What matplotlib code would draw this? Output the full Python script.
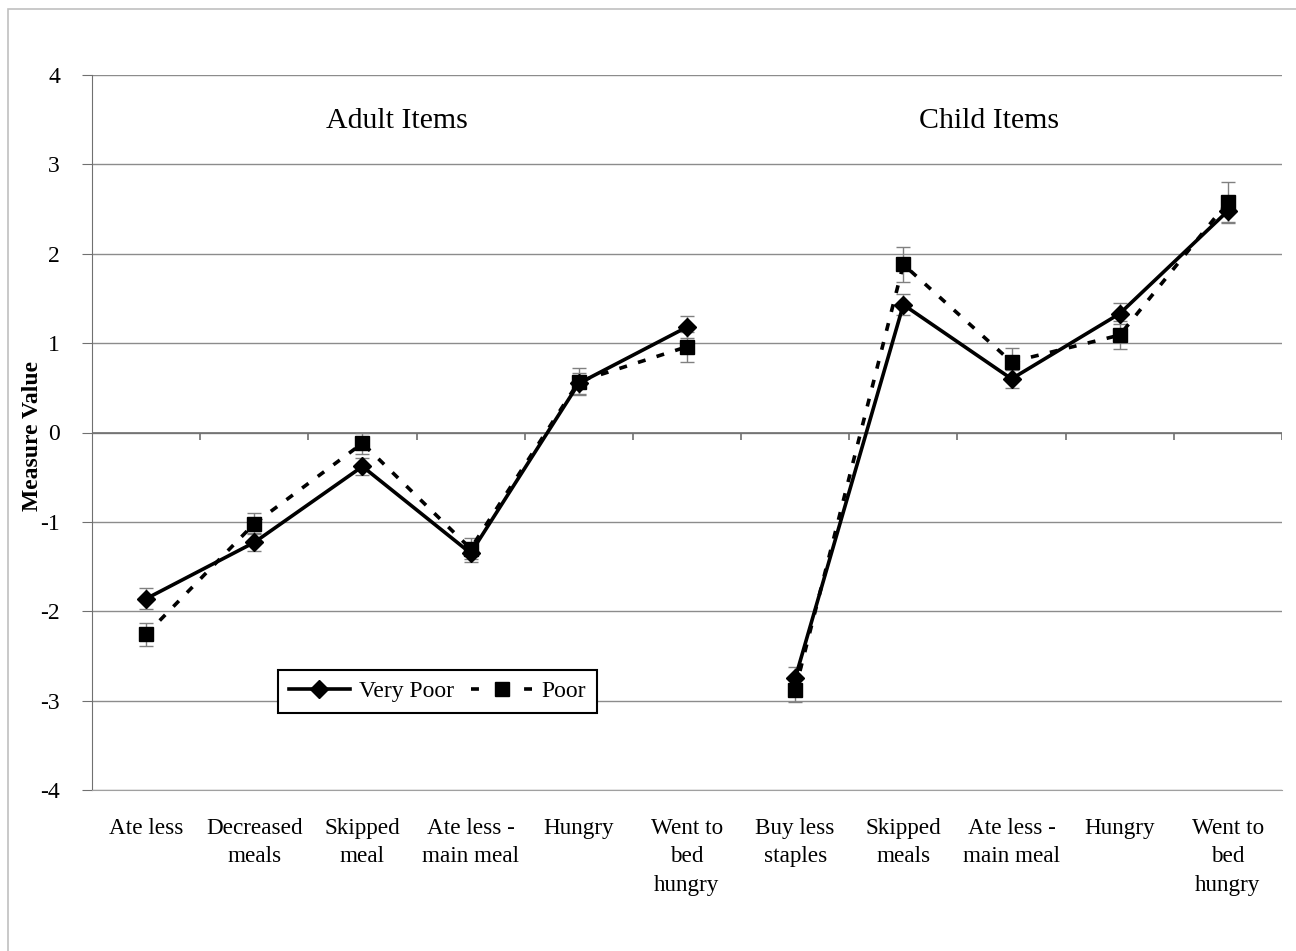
import numpy as np
import matplotlib
matplotlib.use("Agg")
import matplotlib.pyplot as plt
from matplotlib.patches import Rectangle
from matplotlib.lines import Line2D

plt.rcParams['font.family'] = ['Liberation Serif', 'DejaVu Serif']
plt.rcParams['axes.unicode_minus'] = False

# Data
categories = ["Ate less", "Decreased\nmeals", "Skipped\nmeal", "Ate less -\nmain meal",
              "Hungry", "Went to\nbed\nhungry",
              "Buy less\nstaples", "Skipped\nmeals", "Ate less -\nmain meal",
              "Hungry", "Went to\nbed\nhungry"]
very_poor = [-1.86, -1.23, -0.38, -1.35, 0.55, 1.18, -2.75, 1.43, 0.60, 1.33, 2.48]
very_poor_err = [0.12, 0.10, 0.09, 0.10, 0.12, 0.12, 0.13, 0.12, 0.10, 0.12, 0.14]
poor = [-2.26, -1.02, -0.12, -1.30, 0.57, 0.96, -2.88, 1.88, 0.79, 1.09, 2.58]
poor_err = [0.13, 0.12, 0.12, 0.12, 0.15, 0.17, 0.14, 0.20, 0.15, 0.16, 0.22]
groups = [("Adult Items", range(0, 6), 2.32), ("Child Items", range(6, 11), 7.79)]

fig = plt.figure(figsize=(12.96, 9.51), dpi=100)
fig.patches.append(Rectangle((8 / 1296, -0.1), 1.2, 1 - 9 / 951 + 0.1, transform=fig.transFigure,
                             fill=False, edgecolor='#c0c0c0', linewidth=1.2))
ax = fig.add_axes([92 / 1296, 1 - 790 / 951, 1190 / 1296, 715 / 951])

x = np.arange(len(categories))
dash = (0, (2.2, 3.2))
for title, idx, tx in groups:
    idx = list(idx)
    xs = x[idx]
    vp = np.array(very_poor)[idx]
    p = np.array(poor)[idx]
    ax.errorbar(xs, vp, yerr=np.array(very_poor_err)[idx], fmt='none', ecolor='#808080',
                elinewidth=1, capsize=5, capthick=1, zorder=2)
    ax.errorbar(xs, p, yerr=np.array(poor_err)[idx], fmt='none', ecolor='#808080',
                elinewidth=1, capsize=5, capthick=1, zorder=2)
    ax.plot(xs, p, color='black', linestyle=dash, linewidth=2.6,
            marker='s', markersize=10, zorder=3)
    ax.plot(xs, vp, color='black', linestyle='-', linewidth=2.6,
            marker='D', markersize=9, zorder=4)
    ax.text(tx, 3.48, title, ha='center', va='center', fontsize=21.5)

ax.set_xlim(-0.5, len(categories) - 0.5)
ax.set_ylim(-4, 4)
ax.set_yticks(range(-4, 5))
ax.yaxis.grid(True, color='#8c8c8c', linewidth=1)
ax.set_axisbelow(True)
ax.axhline(0, color='#707070', linewidth=1.2, zorder=1)
# category boundary ticks on the zero line
ax.vlines(np.arange(0.5, len(categories), 1), -0.08, 0, color='#707070', linewidth=1.2, zorder=1)

ax.set_xticks(x)
ax.set_xticklabels(categories, fontsize=16.7, linespacing=1.48)
ax.tick_params(axis='x', length=0, pad=20)
ax.tick_params(axis='y', labelsize=17, length=7, color='#707070', pad=16)

for s in ['top', 'right']:
    ax.spines[s].set_visible(False)
ax.spines['left'].set_color('#707070')
ax.spines['bottom'].set_color('#a0a0a0')

ax.set_ylabel("Measure Value", fontsize=17, fontweight='bold')
ax.yaxis.set_label_coords((43 - 92) / 1190, 0.495)

handles = [Line2D([], [], color='black', linestyle='-', linewidth=2.6, marker='D', markersize=9),
           Line2D([], [], color='black', linestyle=(0, (2.2, 5.15)), linewidth=2.6,
                  marker='s', markersize=10)]
leg = ax.legend(handles, ["Very Poor", "Poor"], ncol=2, loc='upper left',
                bbox_to_anchor=((278 - 92) / 1190, (790 - 670) / 715), fontsize=17,
                frameon=True, fancybox=False, edgecolor='black', framealpha=1,
                borderpad=0.45, handlelength=2.6, columnspacing=0.7, handletextpad=0.4,
                borderaxespad=0)
leg.get_frame().set_linewidth(1.5)

fig.savefig("out.png", dpi=100)
